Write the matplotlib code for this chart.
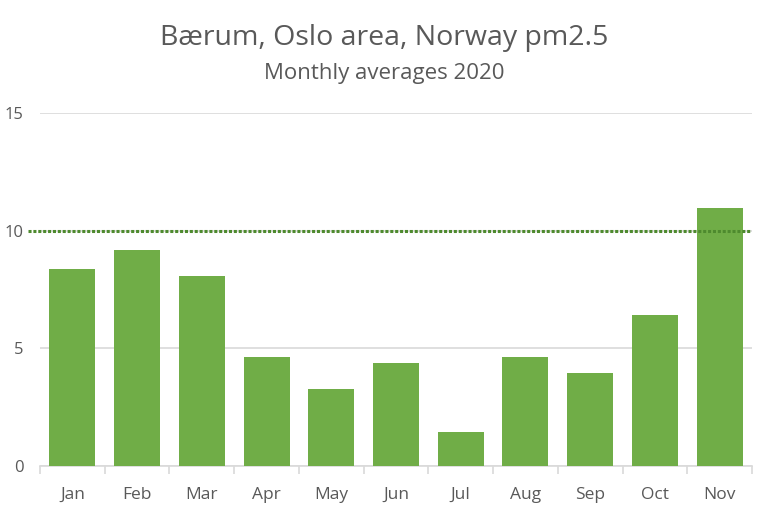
import matplotlib.pyplot as plt
import numpy as np

plt.rcParams['font.family'] = ['Open Sans', 'DejaVu Sans']

months = ['Jan', 'Feb', 'Mar', 'Apr', 'May', 'Jun', 'Jul', 'Aug', 'Sep', 'Oct', 'Nov']
pm25 = [8.37, 9.18, 8.07, 4.63, 3.27, 4.38, 1.44, 4.65, 3.95, 6.42, 10.96]
limit = 10
yticks = [0, 5, 10, 15]

fig = plt.figure(figsize=(7.68, 5.13), dpi=100)
ax = fig.add_axes([40 / 768, 1 - 466 / 513, 712 / 768, 353 / 513])

x = np.arange(len(months))
ax.bar(x, pm25, width=0.71, color='#70ad47', zorder=3)

ax.set_xlim(-0.5, len(months) - 0.5)
ax.set_ylim(0, 15)
ax.set_yticks(yticks)
ax.set_xticks(x)
ax.set_xticklabels(months)
ax.set_xticks(np.arange(len(months) + 1) - 0.5, minor=True)

ax.grid(axis='y', color='#d9d9d9', linewidth=1.2, zorder=0)
for s in ['top', 'right', 'left']:
    ax.spines[s].set_visible(False)
ax.spines['bottom'].set_color('#d9d9d9')
ax.spines['bottom'].set_linewidth(1.2)
ax.tick_params(axis='y', length=0, pad=12, labelsize=12, labelcolor='#595959')
ax.tick_params(axis='x', which='major', length=0, pad=15, labelsize=12.5, labelcolor='#595959')
ax.tick_params(axis='x', which='minor', length=6, color='#d9d9d9', width=1.2)

ax.plot([-0.017, 0.998], [limit, limit], transform=ax.get_yaxis_transform(),
        color='#4e8a2e', linestyle=(0, (1, 0.6)), linewidth=2.2, clip_on=False, zorder=4)

fig.text(0.5, 1 - 38 / 513, 'Bærum, Oslo area, Norway pm2.5', ha='center', va='center',
         fontsize=20.5, color='#595959')
fig.text(0.5, 1 - 73 / 513, 'Monthly averages 2020', ha='center', va='center',
         fontsize=16, color='#595959')

fig.savefig('out.png', dpi=100)
